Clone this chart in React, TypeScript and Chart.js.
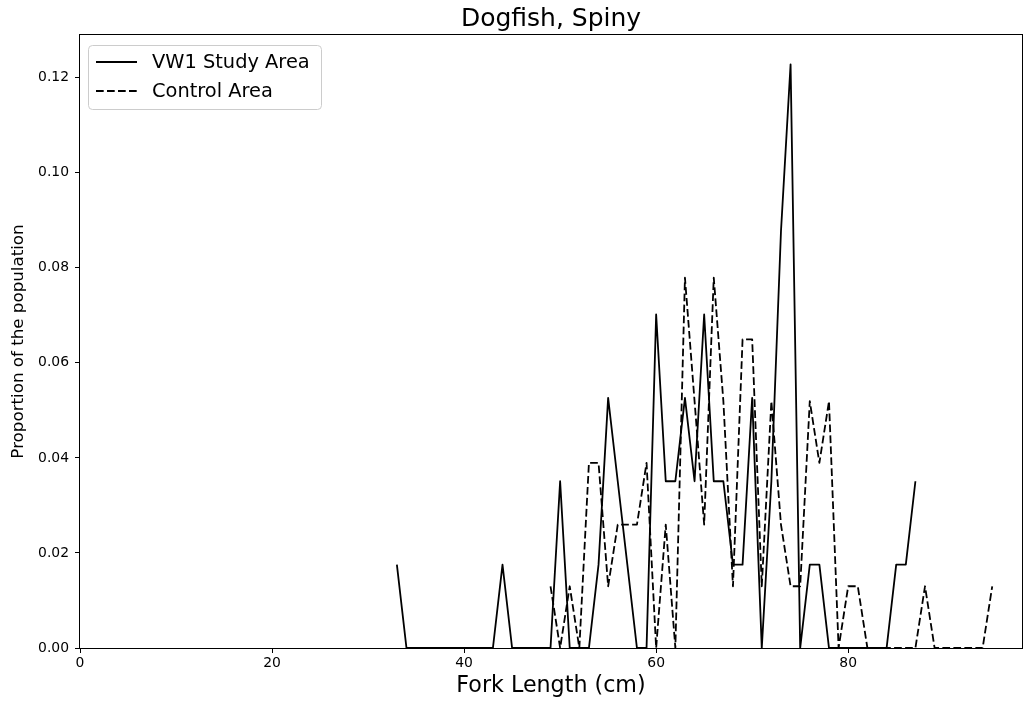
import React, { useEffect, useRef } from "react";
import { Chart, registerables } from "chart.js";

Chart.register(...registerables);

const chartTitle = "Dogfish, Spiny";
const xAxisLabel = "Fork Length (cm)";
const yAxisLabel = "Proportion of the population";

const vw1Label = "VW1 Study Area";
const vw1Lengths = [
  33, 34, 35, 36, 37, 38, 39, 40, 41, 42, 43, 44, 45, 46, 47, 48, 49, 50, 51, 52,
  53, 54, 55, 56, 57, 58, 59, 60, 61, 62, 63, 64, 65, 66, 67, 68, 69, 70, 71, 72,
  73, 74, 75, 76, 77, 78, 79, 80, 81, 82, 83, 84, 85, 86, 87,
];
const vw1Values = [
  0.01754, 0, 0, 0, 0, 0, 0, 0, 0, 0, 0, 0.01754, 0, 0, 0, 0, 0, 0.03509, 0, 0,
  0, 0.01754, 0.05263, 0.03509, 0.01754, 0, 0, 0.07018, 0.03509, 0.03509, 0.05263, 0.03509, 0.07018, 0.03509, 0.03509, 0.01754, 0.01754, 0.05263, 0, 0.03509,
  0.08772, 0.12281, 0, 0.01754, 0.01754, 0, 0, 0, 0, 0, 0, 0, 0.01754, 0.01754, 0.03509,
];

const controlLabel = "Control Area";
const controlLengths = [
  49, 50, 51, 52, 53, 54, 55, 56, 57, 58, 59, 60, 61, 62, 63, 64, 65, 66, 67, 68,
  69, 70, 71, 72, 73, 74, 75, 76, 77, 78, 79, 80, 81, 82, 83, 84, 85, 86, 87, 88,
  89, 90, 91, 92, 93, 94, 95,
];
const controlValues = [
  0.01299, 0, 0.01299, 0, 0.03896, 0.03896, 0.01299, 0.02597, 0.02597, 0.02597, 0.03896, 0, 0.02597, 0, 0.07792, 0.05195, 0.02597, 0.07792, 0.05195, 0.01299,
  0.06494, 0.06494, 0.01299, 0.05195, 0.02597, 0.01299, 0.01299, 0.05195, 0.03896, 0.05195, 0, 0.01299, 0.01299, 0, 0, 0, 0, 0, 0, 0.01299,
  0, 0, 0, 0, 0, 0, 0.01299,
];

const xMin = 0;
const xMax = 98.1;
const xStep = 20;
const yMin = 0;
const yMax = 0.129;
const yStep = 0.02;

const FONT = "'DejaVu Sans', 'Liberation Sans', sans-serif";
const DASH = [7.7, 3.3];
const LINE_W = 1.8;

const decorPlugin = {
  id: "decor",
  afterDraw(chart: any) {
    const { ctx, chartArea } = chart;
    const { left, right, top, bottom } = chartArea;
    ctx.save();
    // frame
    ctx.strokeStyle = "#000";
    ctx.lineWidth = 1;
    ctx.setLineDash([]);
    ctx.strokeRect(left - 0.5, top - 0.5, right - left + 1, bottom - top + 1);
    // title
    ctx.fillStyle = "#000";
    ctx.font = `25px ${FONT}`;
    ctx.textAlign = "center";
    ctx.textBaseline = "alphabetic";
    ctx.fillText(chartTitle, (left + right) / 2, 26);
    // legend
    const bx = left + 8.5;
    const by = top + 10.5;
    const bw = 233;
    const bh = 64;
    ctx.beginPath();
    (ctx as any).roundRect(bx, by, bw, bh, 4);
    ctx.fillStyle = "rgba(255,255,255,0.8)";
    ctx.fill();
    ctx.strokeStyle = "#cccccc";
    ctx.lineWidth = 1;
    ctx.stroke();
    const items = chart.data.datasets.map((d: any) => ({
      label: d.label,
      dash: d.borderDash || [],
      color: d.borderColor,
      width: d.borderWidth,
    }));
    ctx.font = `19.4px ${FONT}`;
    ctx.textAlign = "left";
    ctx.textBaseline = "middle";
    items.forEach((it: any, i: number) => {
      const y = top + 27 + i * 29;
      ctx.beginPath();
      ctx.setLineDash(it.dash);
      ctx.strokeStyle = it.color;
      ctx.lineWidth = it.width;
      ctx.moveTo(left + 16, y);
      ctx.lineTo(left + 57, y);
      ctx.stroke();
      ctx.setLineDash([]);
      ctx.fillStyle = "#000";
      ctx.fillText(it.label, left + 72, y + 1);
    });
    ctx.restore();
  },
};

export default function App() {
  const canvasRef = useRef<HTMLCanvasElement | null>(null);

  useEffect(() => {
    const canvas = canvasRef.current;
    if (!canvas) return;
    const vw1Data = vw1Lengths.map((x, i) => ({ x, y: vw1Values[i] }));
    const controlData = controlLengths.map((x, i) => ({ x, y: controlValues[i] }));
    const chart = new Chart(canvas, {
      type: "line",
      data: {
        datasets: [
          {
            label: vw1Label,
            data: vw1Data,
            borderColor: "#000",
            backgroundColor: "#000",
            borderWidth: LINE_W,
            borderJoinStyle: "round",
            pointRadius: 0,
            tension: 0,
            fill: false,
          },
          {
            label: controlLabel,
            data: controlData,
            borderColor: "#000",
            backgroundColor: "#000",
            borderWidth: LINE_W,
            borderJoinStyle: "round",
            borderDash: DASH,
            pointRadius: 0,
            tension: 0,
            fill: false,
          },
        ],
      },
      options: {
        responsive: false,
        animation: false,
        devicePixelRatio: 1,
        layout: { padding: { top: 35, right: 5, left: 0, bottom: 0 } },
        plugins: {
          legend: { display: false },
          title: { display: false },
          tooltip: { enabled: false },
        },
        scales: {
          x: {
            type: "linear",
            min: xMin,
            max: xMax,
            afterFit: (s: any) => {
              s.height = 56;
            },
            border: { display: false },
            grid: {
              drawOnChartArea: false,
              drawTicks: true,
              tickLength: 5,
              tickColor: "#000",
              tickWidth: 1,
            },
            ticks: {
              stepSize: xStep,
              includeBounds: false,
              color: "#000",
              padding: 2,
              maxRotation: 0,
              font: { family: FONT, size: 13.9 },
              callback: (v: any) => String(v),
            },
            title: {
              display: true,
              text: xAxisLabel,
              color: "#000",
              font: { family: FONT, size: 22.2 },
              padding: { top: 0, bottom: 4.4 },
            },
          },
          y: {
            type: "linear",
            min: yMin,
            max: yMax,
            afterFit: (s: any) => {
              s.width = 80;
            },
            border: { display: false },
            grid: {
              drawOnChartArea: false,
              drawTicks: true,
              tickLength: 5,
              tickColor: "#000",
              tickWidth: 1,
            },
            ticks: {
              stepSize: yStep,
              includeBounds: false,
              color: "#000",
              padding: 6,
              font: { family: FONT, size: 13.9 },
              callback: (v: any) => Number(v).toFixed(2),
            },
            title: {
              display: true,
              text: yAxisLabel,
              color: "#000",
              font: { family: FONT, size: 16.7 },
              padding: { top: 9, bottom: 0 },
            },
          },
        },
      },
      plugins: [decorPlugin],
    });
    return () => chart.destroy();
  }, []);

  return (
    <div style={{ position: "fixed", left: 0, top: 0, width: 1027, height: 704, background: "#fff" }}>
      <canvas ref={canvasRef} width={1027} height={704} />
    </div>
  );
}
